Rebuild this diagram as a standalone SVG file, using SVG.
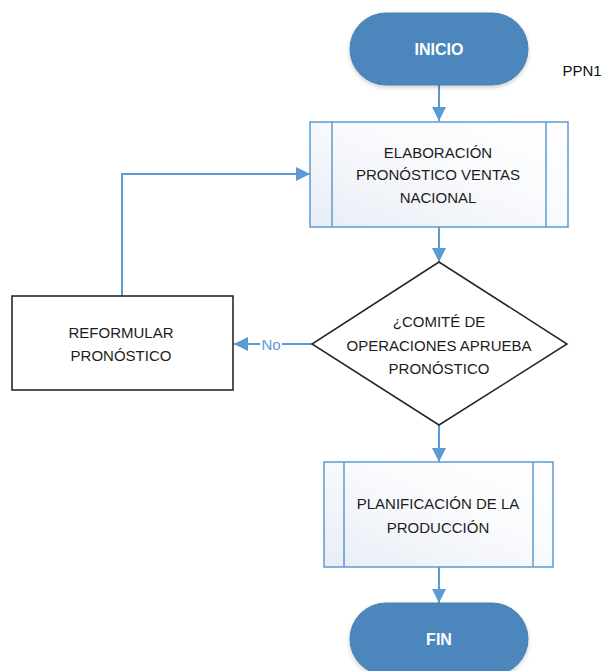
<svg xmlns="http://www.w3.org/2000/svg" width="604" height="671" viewBox="0 0 604 671">
<defs>
<style>
.t{font-family:"Liberation Sans",Arial,sans-serif;font-size:15px;fill:#1c1c1c;text-anchor:middle;dominant-baseline:central}
.w{font-family:"Liberation Sans",Arial,sans-serif;font-size:16px;font-weight:bold;fill:#ffffff;text-anchor:middle;dominant-baseline:central}
.term{fill:#4b86bc;stroke:#4a80b4;stroke-width:1}
.proc{fill:url(#g);stroke:#5b9bd5;stroke-width:1.5}
.pl{stroke:#5b9bd5;stroke-width:1.5}
.c{fill:none;stroke:#5b9bd5;stroke-width:2}
</style>
<linearGradient id="g" x1="0" y1="1" x2="1" y2="0">
<stop offset="0" stop-color="#e8edf5"/>
<stop offset="0.6" stop-color="#fafbfd"/>
<stop offset="1" stop-color="#ffffff"/>
</linearGradient>
<marker id="b" viewBox="0 0 10 10" refX="10" refY="5" markerWidth="14" markerHeight="14" markerUnits="userSpaceOnUse" orient="auto">
<path d="M0,0 L10,5 L0,10 z" fill="#5b9bd5"/>
</marker>
<filter id="sh" x="-10%" y="-10%" width="120%" height="130%">
<feDropShadow dx="0" dy="2" stdDeviation="2" flood-color="#000" flood-opacity="0.2"/>
</filter>
</defs>
<rect width="604" height="671" fill="#ffffff"/>
<g id="connectors">
<line class="c" x1="439" y1="85" x2="439" y2="121" marker-end="url(#b)"/>
<line class="c" x1="439" y1="227" x2="439" y2="262" marker-end="url(#b)"/>
<line class="c" x1="439" y1="425" x2="439" y2="462" marker-end="url(#b)"/>
<line class="c" x1="439" y1="567" x2="439" y2="603" marker-end="url(#b)"/>
<polyline class="c" points="312,344 282,344"/>
<polyline class="c" points="260,344 234,344" marker-end="url(#b)"/>
<polyline class="c" points="122,296 122,174 310,174" marker-end="url(#b)"/>
<text x="271" y="344" font-family="'Liberation Sans',Arial,sans-serif" font-size="15" fill="#5b9bd5" text-anchor="middle" dominant-baseline="central">No</text>
</g>
<g id="inicio">
<rect class="term" x="350" y="13" width="178" height="72" rx="36" filter="url(#sh)"/>
<text class="w" x="439" y="49">INICIO</text>
</g>
<g id="ppn1">
<text x="582" y="70" font-family="'Liberation Sans',Arial,sans-serif" font-size="15" fill="#111" text-anchor="middle" dominant-baseline="central">PPN1</text>
</g>
<g id="elaboracion">
<rect class="proc" x="310" y="122" width="258" height="105"/>
<line class="pl" x1="332" y1="122" x2="332" y2="227"/>
<line class="pl" x1="546" y1="122" x2="546" y2="227"/>
<text class="t" x="438" y="152">ELABORACIÓN</text>
<text class="t" x="438" y="174">PRONÓSTICO VENTAS</text>
<text class="t" x="438" y="197">NACIONAL</text>
</g>
<g id="decision">
<polygon points="439,262 567,344 439,425 312,344" fill="#ffffff" stroke="#262626" stroke-width="1.5"/>
<text class="t" x="439" y="321">¿COMITÉ DE</text>
<text class="t" x="439" y="345">OPERACIONES APRUEBA</text>
<text class="t" x="439" y="368">PRONÓSTICO</text>
</g>
<g id="reformular">
<rect x="12" y="296" width="221" height="94" fill="#ffffff" stroke="#1a1a1a" stroke-width="1.5"/>
<text class="t" x="121" y="332">REFORMULAR</text>
<text class="t" x="121" y="355">PRONÓSTICO</text>
</g>
<g id="planificacion">
<rect class="proc" x="324" y="462" width="229" height="105"/>
<line class="pl" x1="344" y1="462" x2="344" y2="567"/>
<line class="pl" x1="533" y1="462" x2="533" y2="567"/>
<text class="t" x="438" y="503">PLANIFICACIÓN DE LA</text>
<text class="t" x="438" y="527">PRODUCCIÓN</text>
</g>
<g id="fin">
<rect class="term" x="350" y="603" width="178" height="72" rx="36" filter="url(#sh)"/>
<text class="w" x="439" y="639">FIN</text>
</g>
</svg>
